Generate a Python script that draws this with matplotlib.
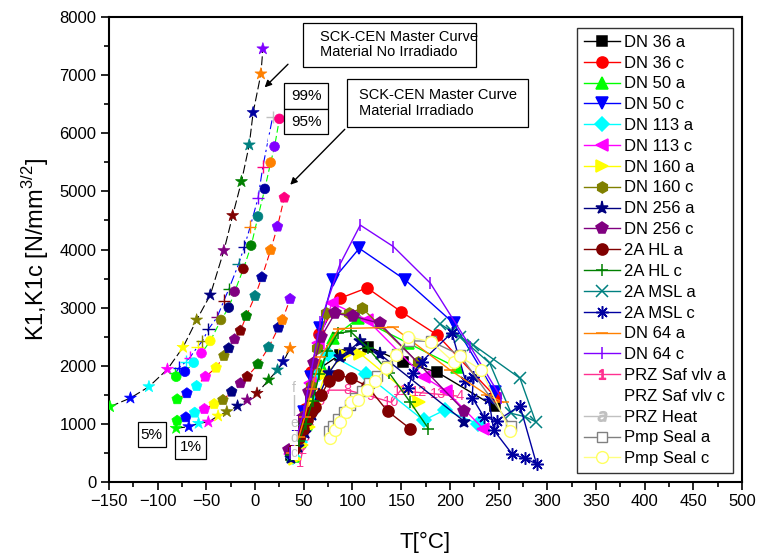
import matplotlib
matplotlib.use('Agg')
import matplotlib.pyplot as plt
from matplotlib.lines import Line2D
from matplotlib.patches import Rectangle

plt.rcParams['font.family'] = ['Liberation Sans', 'DejaVu Sans']
plt.rcParams['mathtext.fontset'] = 'custom'
plt.rcParams['mathtext.rm'] = 'Liberation Sans'

# ---------------------------------------------------------------
# SCK-CEN master curves (T [C], K [N/mm^3/2])
# ---------------------------------------------------------------
mc_star_t = [-149, -128, -109, -90, -74, -60, -46, -32, -23, -14, -6, -2, 6, 8]
mc_star_k = [1296, 1445, 1640, 1940, 2318, 2788, 3218, 3981, 4584, 5169, 5800, 6356, 7022, 7453]

mc_cross_t = [-82, -78, -71, -67, -59, -54, -48, -39, -32, -27, -17, -11, -5, 3, 8, 13, 18]
mc_cross_k = [1870, 1967, 2071, 2140, 2329, 2427, 2628, 2834, 3121, 3317, 3747, 4050, 4394, 4883, 5427, 5850, 6277]

mc_circ_t = [-81, -72, -63, -55, -46, -35, -27, -21, -12, -4, 3, 10, 16, 20, 25]
mc_circ_k = [1812, 1898, 2053, 2215, 2427, 2788, 3000, 3275, 3666, 4067, 4567, 5043, 5496, 5771, 6248]

mc_pent_t = [-80, -70, -60, -51, -40, -32, -27, -21, -15, -9, 0, 7, 16, 23, 30]
mc_pent_k = [1423, 1527, 1652, 1812, 1967, 2169, 2301, 2456, 2604, 2857, 3201, 3523, 3993, 4394, 4893]

mc_pent_low_t = [-80, -71, -62, -52, -42, -33, -24, -15, -8, 3, 14, 24, 28, 36]
mc_pent_low_k = [1055, 1113, 1193, 1256, 1342, 1411, 1554, 1699, 1812, 2026, 2318, 2656, 2788, 3150]

mc_star_low_t = [-81, -68, -58, -48, -38, -29, -18, -8, 2, 14, 23, 29, 36]
mc_star_low_k = [924, 952, 1010, 1033, 1136, 1210, 1308, 1411, 1527, 1756, 1928, 2071, 2301]

# ---------------------------------------------------------------
# component transients
# ---------------------------------------------------------------
dn36a_t = [37, 44, 50, 57, 66, 87, 116, 152, 187, 246]
dn36a_k = [470, 720, 1000, 1450, 1950, 2190, 2330, 2060, 1890, 1300]
dn36c_t = [38, 45, 51, 57, 66, 87, 115, 150, 187, 246]
dn36c_k = [520, 820, 1250, 1900, 2550, 3160, 3340, 2930, 2530, 1480]
dn50a_t = [39, 46, 52, 59, 68, 80, 106, 157, 207]
dn50a_k = [450, 700, 1000, 1450, 2000, 2480, 2820, 2390, 1970]
dn50c_t = [37, 44, 50, 57, 67, 80, 107, 154, 204, 246]
dn50c_k = [500, 800, 1200, 1800, 2650, 3480, 4020, 3480, 2730, 1550]
dn113a_t = [39, 46, 52, 59, 66, 75, 114, 173, 195, 229]
dn113a_k = [430, 680, 960, 1400, 1850, 2210, 1850, 1060, 1240, 1000]
dn113c_t = [36, 44, 50, 56, 65, 79, 115, 173, 196, 234]
dn113c_k = [480, 780, 1150, 1700, 2400, 3080, 2790, 1810, 1570, 920]
dn160a_t = [41, 48, 55, 62, 72, 92, 108, 168]
dn160a_k = [400, 640, 950, 1350, 1850, 2190, 2210, 1380]
dn160c_t = [37, 45, 51, 57, 64, 73, 96, 110, 167]
dn160c_k = [520, 820, 1150, 1650, 2300, 2900, 2900, 2990, 2060]
dn256a_t = [37, 44, 51, 58, 66, 76, 87, 97, 108, 128, 215]
dn256a_k = [420, 600, 850, 1150, 1500, 1880, 2150, 2270, 2420, 2200, 1040]
dn256c_t = [35, 43, 49, 55, 61, 68, 82, 101, 128, 215]
dn256c_k = [550, 800, 1100, 1550, 2050, 2500, 2900, 2850, 2730, 1220]
hla_t = [40, 45, 49, 53, 57, 62, 68, 76, 85, 98, 115, 136, 159]
hla_k = [560, 750, 920, 1070, 1210, 1290, 1500, 1740, 1840, 1790, 1650, 1220, 920]
hlc_t = [37, 45, 52, 59, 66, 74, 85, 98, 116, 138, 159, 178]
hlc_k = [460, 700, 1000, 1400, 1850, 2250, 2560, 2590, 2300, 1870, 1380, 920]
msla_t = [190, 202, 224, 272, 288, 277, 263, 241, 210]
msla_k = [2720, 2590, 2360, 1785, 1040, 1124, 1182, 2043, 2500]
mslc_t = [157, 162, 171, 202, 216, 224, 223, 235, 248, 272, 289, 277, 264, 245, 240]
mslc_k = [1610, 1870, 2070, 2570, 1745, 1810, 1450, 1120, 1050, 1310, 310, 410, 480, 895, 1420]
dn64a_t = [38, 45, 51, 58, 67, 86, 142, 200, 238, 255]
dn64a_k = [500, 780, 1120, 1600, 2150, 2640, 2660, 1930, 1500, 1370]
dn64c_t = [36, 43, 50, 57, 67, 87, 108, 142, 180, 221, 253]
dn64c_k = [500, 800, 1200, 1850, 2750, 3740, 4420, 4050, 3420, 2330, 1440]
prza_t = [46, 49, 52, 56, 60, 67, 75, 95, 118, 140, 149, 168, 188, 207]
prza_k = [320, 550, 780, 1010, 1240, 1400, 1580, 1580, 1480, 1370, 1570, 1540, 1510, 1480]
heat_t = [40, 40, 40, 40]
heat_k = [494, 752, 1020, 1612]
heat_letters = ['c', 'd', 'e', 'f']
pmpa_t = [76, 80, 85, 91, 97, 103, 110, 117, 125, 135, 146, 158, 181, 210, 263]
pmpa_k = [870, 960, 1080, 1210, 1330, 1440, 1560, 1700, 1830, 1990, 2200, 2430, 2420, 2190, 960]
pmpc_t = [77, 82, 87, 93, 99, 106, 115, 123, 134, 145, 157, 181, 204, 210, 232, 262]
pmpc_k = [760, 900, 1040, 1200, 1380, 1410, 1580, 1730, 1960, 2190, 2500, 2410, 2060, 2160, 1930, 870]

# Origin colour list, starting from colour 3 (green)
palette = ['#00FF00', '#0000FF', '#00FFFF', '#FF00FF', '#FFFF00', '#808000', '#000080',
           '#800080', '#800000', '#008000', '#008080', '#0000A0', '#FF8000', '#8000FF',
           '#FF0080', '#FFFFFF', '#C0C0C0']

fig = plt.figure(figsize=(7.57, 5.56), dpi=100)
ax = fig.add_axes([0.1440, 0.1331, 0.8362, 0.8363])

curves = [
    (mc_star_t, mc_star_k, 'black', (0, (8, 3)), '*', 9),
    (mc_cross_t, mc_cross_k, 'blue', (0, (8, 3, 2, 3)), '+', 9),
    (mc_circ_t, mc_circ_k, '#00FF00', (0, (6, 3)), 'o', 7),
    (mc_pent_t, mc_pent_k, 'red', (0, (6, 3)), 'p', 8),
    (mc_pent_low_t, mc_pent_low_k, 'red', (0, (6, 3)), 'p', 8),
    (mc_star_low_t, mc_star_low_k, 'black', (0, (8, 3)), '*', 9),
]
for t, k, lc, ls, mk, ms in curves:
    ax.plot(t, k, color=lc, ls=ls, lw=0.8, zorder=2)
    cols = palette[:len(t)]
    if mk == '+':
        ax.scatter(t, k, c=cols, marker=mk, s=ms**2, linewidths=1.0, zorder=3)
    else:
        ax.scatter(t, k, c=cols, edgecolors=cols, marker=mk, s=ms**2, linewidths=0.5, zorder=3)

# safety valve: Origin numbers the points 1, 2, 3 ... (drawn under the others)
pink = '#FF3090'
ax.plot(prza_t, prza_k, color=pink, lw=1.0, zorder=3.5)
for i, (t, k) in enumerate(zip(prza_t, prza_k)):
    ax.text(t, k, str(i + 1), color=pink, fontsize=10.5, ha='center', va='center', zorder=3.6)

asterisk = (8, 2, 0)
series = [
    ('DN 36 a', dn36a_t, dn36a_k, '#000000', 's', 6.5),
    ('DN 36 c', dn36c_t, dn36c_k, '#FF0000', 'o', 8),
    ('DN 50 a', dn50a_t, dn50a_k, '#00FF00', '^', 8),
    ('DN 50 c', dn50c_t, dn50c_k, '#0000FF', 'v', 8.5),
    ('DN 113 a', dn113a_t, dn113a_k, '#00FFFF', 'D', 7),
    ('DN 113 c', dn113c_t, dn113c_k, '#FF00FF', '<', 8.5),
    ('DN 160 a', dn160a_t, dn160a_k, '#FFFF00', '>', 8.5),
    ('DN 160 c', dn160c_t, dn160c_k, '#808000', 'h', 8),
    ('DN 256 a', dn256a_t, dn256a_k, '#000080', '*', 9.5),
    ('DN 256 c', dn256c_t, dn256c_k, '#800080', 'p', 8.5),
    ('2A HL a', hla_t, hla_k, '#800000', 'o', 8),
    ('2A HL c', hlc_t, hlc_k, '#008000', '+', 9),
    ('2A MSL a', msla_t, msla_k, '#008080', 'x', 8),
    ('2A MSL c', mslc_t, mslc_k, '#0000A0', asterisk, 9),
    ('DN 64 a', dn64a_t, dn64a_k, '#FF8000', '_', 9),
    ('DN 64 c', dn64c_t, dn64c_k, '#8000FF', '|', 9),
]

handles = []
for name, t, k, c, mk, ms in series:
    ln, = ax.plot(t, k, color=c, lw=1.0, marker=mk, ms=ms, mfc=c, mec=c,
                  mew=1.1, label=name, zorder=4)
    handles.append(ln)

handles.append(Line2D([], [], color=pink, lw=1.0, marker='$1$', ms=7, label='PRZ Saf vlv a'))
handles.append(Line2D([], [], color='white', lw=1.0, label='PRZ Saf vlv c'))

# pressuriser heater: lettered points
gray = '#C0C0C0'
ax.plot(heat_t, heat_k, color=gray, lw=1.0, zorder=5)
for t, k, s in zip(heat_t, heat_k, heat_letters):
    ax.text(t, k, s, color=gray, fontsize=10, ha='center', va='center', zorder=5,
            bbox=dict(boxstyle='square,pad=0.0', fc='white', ec='none'))
handles.append(Line2D([], [], color=gray, lw=1.0, marker='$a$', ms=7, label='PRZ Heat'))

ln, = ax.plot(pmpa_t, pmpa_k, color='#808080', lw=1.0, marker='s', ms=7, mfc='white',
              mec='#808080', mew=1.0, label='Pmp Seal a', zorder=6)
handles.append(ln)
ln, = ax.plot(pmpc_t, pmpc_k, color='#FFFF80', lw=1.0, marker='o', ms=8.5, mfc='white',
              mec='#FFFF60', mew=1.0, label='Pmp Seal c', zorder=6)
handles.append(ln)

# text boxes and arrows
def box(x0, x1, y0, y1):
    ax.add_patch(Rectangle((x0, y0), x1 - x0, y1 - y0, fill=True, fc='white',
                           ec='black', lw=0.9, zorder=7))

box(49, 227, 7140, 7902)
ax.text(66.6, 7527, 'SCK-CEN Master Curve\nMaterial No Irradiado', fontsize=10.5,
        ha='left', va='center', linespacing=1.15, zorder=8)
box(94, 280, 6107, 6933)
ax.text(106.7, 6520, 'SCK-CEN Master Curve\nMaterial Irradiado', fontsize=10.5,
        ha='left', va='center', linespacing=1.15, zorder=8)
for (x0, x1, y0, y1), s in [((29.7, 74.9, 6417, 6859), '99%'),
                            ((29.7, 74.9, 5987, 6417), '95%'),
                            ((-120.6, -91.5, 602, 1032), '5%'),
                            ((-82.3, -50.4, 391, 797), '1%')]:
    box(x0, x1, y0, y1)
    ax.text((x0 + x1) / 2, (y0 + y1) / 2, s, fontsize=11, ha='center', va='center', zorder=8)

arrow = dict(arrowstyle='-|>', color='black', lw=1.0, mutation_scale=10)
ax.annotate('', xy=(7.8, 6756), xytext=(35.8, 7221), arrowprops=arrow, zorder=8)
ax.annotate('', xy=(34.1, 5080), xytext=(94.1, 6102), arrowprops=arrow, zorder=8)

ax.set_xlim(-150, 500)
ax.set_ylim(0, 8000)
ax.set_xticks(range(-150, 501, 50))
ax.set_xticks(range(-125, 500, 50), minor=True)
ax.set_yticks(range(0, 8001, 1000))
ax.set_yticks(range(500, 8000, 1000), minor=True)
ax.tick_params(which='both', direction='out', width=1.2, labelsize=12)
ax.tick_params(which='major', length=6, pad=3)
ax.tick_params(which='minor', length=3.5)
for sp in ax.spines.values():
    sp.set_linewidth(1.5)

ax.set_xlabel('T[°C]', fontsize=16, labelpad=16)
ax.set_ylabel(r'K1,K1c [N/mm$^{3/2}$]', fontsize=17, labelpad=6)

leg = ax.legend(handles=handles, loc='upper left', bbox_to_anchor=(577 / 757, 1 - 28 / 556),
                bbox_transform=fig.transFigure, borderaxespad=0, fontsize=12,
                handlelength=2.15, handletextpad=0.3, labelspacing=0.35, borderpad=0.4,
                fancybox=False, framealpha=1, edgecolor='#333333', numpoints=1)
leg.get_frame().set_linewidth(1.0)
leg.set_zorder(10)

fig.savefig('out.png', dpi=100)
